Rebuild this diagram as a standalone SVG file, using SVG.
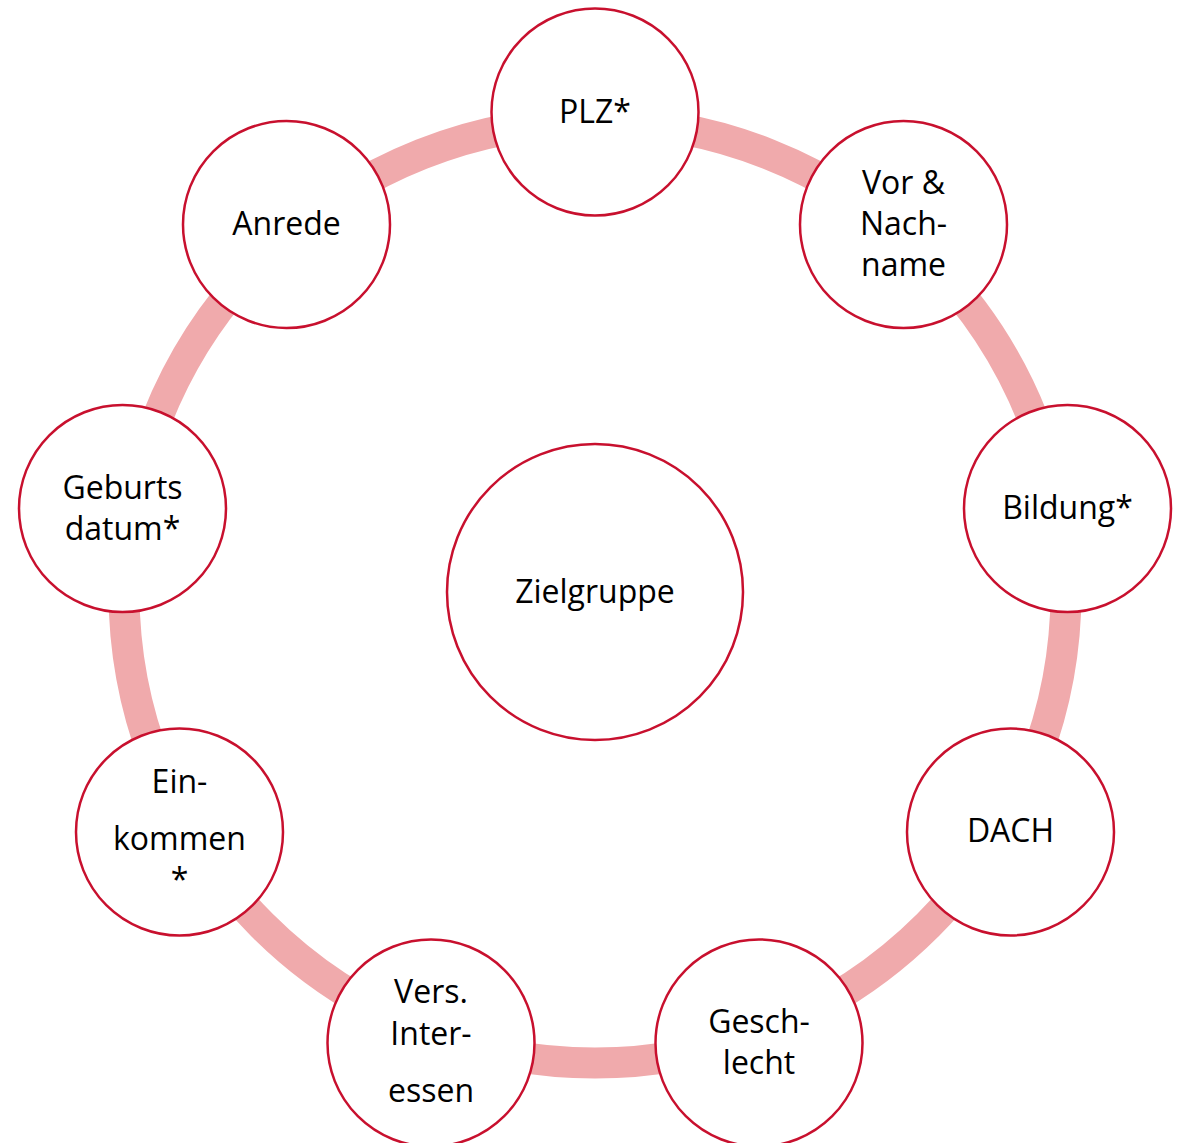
<svg xmlns="http://www.w3.org/2000/svg" width="1183" height="1143" viewBox="0 0 1183 1143">
<style>
.node{fill:#ffffff;stroke:#c8102e;stroke-width:2.5}
.lbl{font-family:"Open Sans","Noto Sans","Liberation Sans",sans-serif;font-size:32px;fill:#000000;text-anchor:middle}
</style>
<rect width="1183" height="1143" fill="#ffffff"/>
<g id="connectors">
<circle cx="595" cy="592" r="471" fill="none" stroke="#f0aaac" stroke-width="31"/>
</g>
<g id="node-zielgruppe"><circle class="node" cx="595" cy="592" r="148"/><text class="lbl" x="595" y="603">Zielgruppe</text></g>
<g id="node-plz"><circle class="node" cx="595" cy="112" r="103.5"/><text class="lbl" x="595" y="123">PLZ*</text></g>
<g id="node-name"><circle class="node" cx="903.5" cy="224.5" r="103.5"/><text class="lbl" x="903.5" y="194">Vor &amp;</text><text class="lbl" x="903.5" y="235">Nach-</text><text class="lbl" x="903.5" y="276">name</text></g>
<g id="node-bildung"><circle class="node" cx="1067.5" cy="508.5" r="103.5"/><text class="lbl" x="1067.5" y="519">Bildung*</text></g>
<g id="node-dach"><circle class="node" cx="1010.5" cy="832" r="103.5"/><text class="lbl" x="1010.5" y="842">DACH</text></g>
<g id="node-geschlecht"><circle class="node" cx="759" cy="1043" r="103.5"/><text class="lbl" x="759" y="1033">Gesch-</text><text class="lbl" x="759" y="1074">lecht</text></g>
<g id="node-interessen"><circle class="node" cx="431" cy="1043" r="103.5"/><text class="lbl" x="431" y="1003">Vers.</text><text class="lbl" x="431" y="1045">Inter-</text><text class="lbl" x="431" y="1102">essen</text></g>
<g id="node-einkommen"><circle class="node" cx="179.5" cy="832" r="103.5"/><text class="lbl" x="179.5" y="793">Ein-</text><text class="lbl" x="179.5" y="850">kommen</text><text class="lbl" x="179.5" y="891">*</text></g>
<g id="node-geburtsdatum"><circle class="node" cx="122.5" cy="508.5" r="103.5"/><text class="lbl" x="122.5" y="499">Geburts</text><text class="lbl" x="122.5" y="540">datum*</text></g>
<g id="node-anrede"><circle class="node" cx="286.5" cy="224.5" r="103.5"/><text class="lbl" x="286.5" y="235">Anrede</text></g>
</svg>
